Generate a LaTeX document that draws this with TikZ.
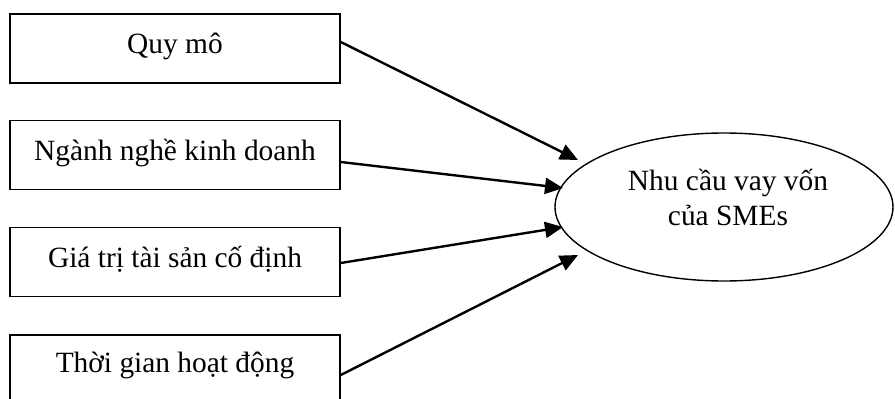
\documentclass[tikz,border=0pt]{standalone}
\usepackage{fontspec}
\setmainfont{Liberation Serif}
\usetikzlibrary{shapes.geometric,arrows.meta}
\tikzset{
  factor/.style={draw, line width=1.6pt, minimum width=330pt, minimum height=69pt, inner sep=0pt},
  ftext/.style={anchor=base, font=\fontsize{29.4}{35}\selectfont, inner sep=0pt},
  target/.style={draw, ellipse, line width=1.4pt, minimum width=338pt, minimum height=148pt, inner sep=0pt},
  conn/.style={line width=2.4pt, -{Triangle[length=18pt,width=16pt]}}
}
\begin{document}
\begin{tikzpicture}[x=1pt,y=-1pt]
\useasboundingbox (0,0) rectangle (895,399);
\clip (0,0) rectangle (895,399);
\node[factor] (b1) at (175,48.5) {};
\node[factor] (b2) at (175,155) {};
\node[factor] (b3) at (175,262) {};
\node[factor] (b4) at (175,369.5) {};
\node[ftext] (l1) at (175,53) {Quy mô};
\node[ftext] (l2) at (175,160) {Ngành nghề kinh doanh};
\node[ftext] (l3) at (175,267) {Giá trị tài sản cố định};
\node[ftext] (l4) at (175,372) {Thời gian hoạt động};
\node[target] (e) at (724,207) {};
\node[align=center, font=\fontsize{29.4}{35}\selectfont, inner sep=0pt] (et) at (728,197) {Nhu cầu vay vốn\\của SMEs};
\coordinate (t1) at (578,160);
\coordinate (t2) at (563,188);
\coordinate (t3) at (563,227);
\coordinate (t4) at (578,255);
\draw[conn] ([yshift=6.5pt]b1.east) -- (t1);
\draw[conn] ([yshift=-7pt]b2.east) -- (t2);
\draw[conn] ([yshift=-1pt]b3.east) -- (t3);
\draw[conn] ([yshift=-5.5pt]b4.east) -- (t4);
\end{tikzpicture}
\end{document}
